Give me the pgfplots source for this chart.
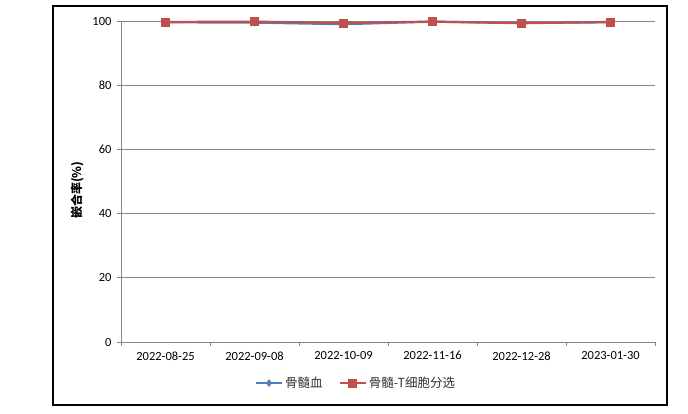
\documentclass[border=0pt]{standalone}
\usepackage{pgfplots}
\pgfplotsset{compat=1.18}
\usepackage{fontspec}
\setmainfont{Carlito}
\newfontfamily\cjk{Noto Sans CJK SC}
\definecolor{exblue}{RGB}{79,129,189}
\definecolor{exred}{RGB}{192,80,77}
\definecolor{exgrid}{RGB}{134,134,134}
\begin{document}
\begin{tikzpicture}[x=1pt,y=1pt]
\useasboundingbox (0,0) rectangle (688,413);
\fill[white] (0,0) rectangle (688,413);
\draw[black,line width=2.5pt] (53,8) rectangle (667,407);
\begin{axis}[
  at={(121pt,71pt)}, anchor=south west,
  scale only axis, width=534pt, height=321pt,
  xmin=0.5, xmax=6.5, ymin=0, ymax=100,
  axis lines=left, axis line style={-, exgrid, line width=0.8pt},
  xtick={1,2,3,4,5,6},
  xticklabels={2022-08-25,2022-09-08,2022-10-09,2022-11-16,2022-12-28,2023-01-30},
  major x tick style={draw=none},
  minor xtick={0.5,1.5,2.5,3.5,4.5,5.5,6.5},
  minor x tick style={exgrid, line width=0.8pt},
  minor tick length=4pt,
  ytick={0,20,40,60,80,100},
  major tick length=4pt,
  tick align=outside,
  y tick style={exgrid, line width=0.8pt},
  ymajorgrids, major grid style={exgrid, line width=0.8pt},
  ticklabel style={font=\fontsize{12.5}{14}\selectfont, text=black},
  /pgf/number format/assume math mode=true,
  xticklabel style={yshift=-2pt},
  yticklabel style={xshift=-2pt},
  ylabel={\cjk\bfseries 嵌合率(\%)},
  ylabel style={font=\fontsize{12}{14}\selectfont, at={(axis description cs:-0.082,0.473)}, anchor=center},
  legend columns=2,
  legend style={draw=none, fill=none, at={(axis description cs:0.44,-0.128)}, anchor=center,
    font=\cjk\fontsize{12.5}{14}\selectfont, text=black!80, /tikz/every even column/.append style={column sep=14pt}},
  legend cell align=left,
  legend image code/.code={\draw[mark repeat=2,mark phase=2] plot coordinates {(0pt,0pt)(13pt,0pt)(26pt,0pt)};},
  clip=false,
]
\addplot[exblue, line width=2.2pt, mark=diamond*, mark size=3.5pt, mark options={fill=exblue, draw=exblue, line width=0.5pt}]
  coordinates {(1,99.6) (2,99.5) (3,99.0) (4,99.8) (5,99.4) (6,99.6)};
\addlegendentry{骨髓血}
\addplot[exred, line width=2.2pt, mark=square*, mark size=4pt, mark options={fill=exred, draw=exred, line width=0.5pt}]
  coordinates {(1,99.7) (2,99.8) (3,99.4) (4,99.8) (5,99.3) (6,99.7)};
\addlegendentry{骨髓-T细胞分选}
\end{axis}
\end{tikzpicture}
\end{document}
